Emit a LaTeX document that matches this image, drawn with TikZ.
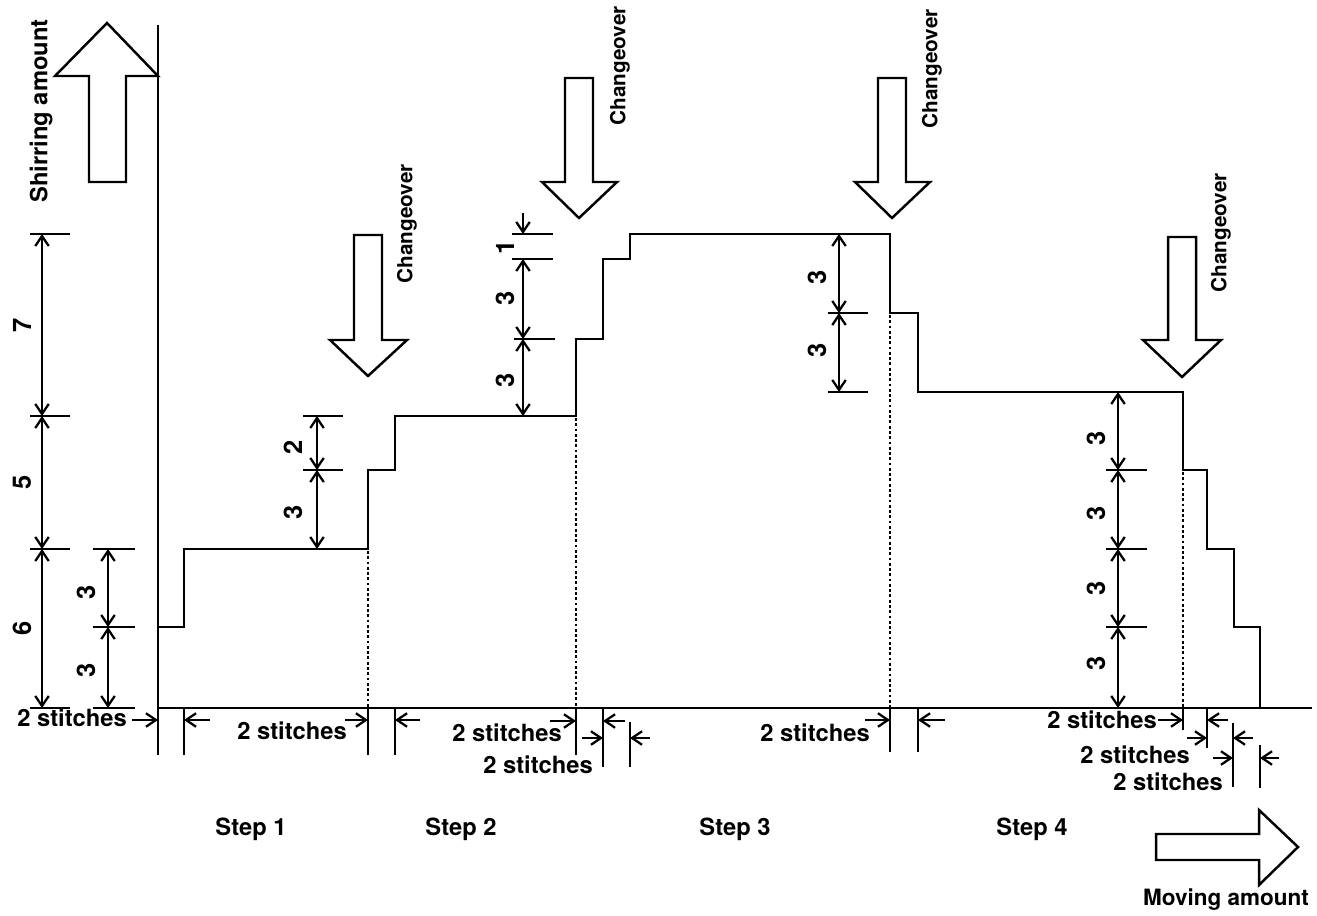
\documentclass[tikz,border=0pt]{standalone}
\usepackage{fontspec}
\setmainfont{TeX Gyre Heros}
\usetikzlibrary{arrows.meta}

\begin{document}
\begin{tikzpicture}[x=0.2mm,y=-0.2mm,
    ln/.style={line width=1.5pt},
    tk/.style={line width=1.3pt},
    dim/.style={line width=1.3pt,
                {Straight Barb[length=2mm,width=2.7mm]}-{Straight Barb[length=2mm,width=2.7mm]}},
    ar/.style={line width=1.3pt,-{Straight Barb[length=2mm,width=2.7mm]}},
    dots/.style={line width=1.6pt,dash pattern=on 1.6pt off 1.4pt},
    blk/.style={draw,line width=1.4pt,fill=white,line join=miter},
    lb/.style={font=\fontsize{13.5}{15}\selectfont\bfseries,inner sep=0pt},
    vl/.style={font=\fontsize{14.5}{16}\selectfont\bfseries,inner sep=0pt,rotate=90},
    co/.style={font=\fontsize{11.8}{13}\selectfont\bfseries,inner sep=0pt,rotate=90}
  ]
    \useasboundingbox (0,0) rectangle (1317,915);

    %% Axes ───────────────────────────────────
    \draw[ln] (158,25) -- (158,755);
    \draw[ln] (158,708) -- (1312,708);
    \draw[blk] (89,182) -- (89,76) -- (55,76) -- (107,23) -- (158,76)
               -- (126,76) -- (126,182) -- cycle;
    \node[lb,rotate=90] (shir) at (41,111) {Shirring amount};
    \draw[blk] (1156,834) -- (1259,834) -- (1259,810) -- (1298,847)
               -- (1259,885) -- (1259,860) -- (1156,860) -- cycle;
    \node[lb,font=\fontsize{12.8}{15}\selectfont\bfseries] (mov) at (1226,900) {Moving amount};

    %% Staircase ──────────────────────────────
    \draw[ln] (158,627) -- (184,627) -- (184,549) -- (368,549) -- (368,470)
          -- (395,470) -- (395,416) -- (576,416) -- (576,339) -- (603,339)
          -- (603,259) -- (630,259) -- (630,234) -- (890,234) -- (890,313)
          -- (918,313) -- (918,392) -- (1183,392) -- (1183,470) -- (1207,470)
          -- (1207,549) -- (1234,549) -- (1234,627) -- (1260,627) -- (1260,708);
    \draw[dots] (368,551) -- (368,708);
    \draw[dots] (576,418) -- (576,708);
    \draw[dots] (890,315) -- (890,708);
    \draw[dots] (1183,472) -- (1183,708);

    %% Changeover arrows ──────────────────────
    \draw[blk] (354,235) -- (382,235) -- (382,340) -- (407,340) -- (368,376)
               -- (330,340) -- (354,340) -- cycle;
    \node[co] (co1) at (407,224) {Changeover};
    \draw[blk] (565,78) -- (593,78) -- (593,182) -- (617,182) -- (579,218)
               -- (542,182) -- (565,182) -- cycle;
    \node[co] (co2) at (620,66) {Changeover};
    \draw[blk] (878,78) -- (906,78) -- (906,182) -- (930,182) -- (892,218)
               -- (855,182) -- (878,182) -- cycle;
    \node[co] (co3) at (932,69) {Changeover};
    \draw[blk] (1168,237) -- (1196,237) -- (1196,340) -- (1221,340) -- (1182,377)
               -- (1143,340) -- (1168,340) -- cycle;
    \node[co] (co4) at (1221,233) {Changeover};

    %% Vertical dimensions ────────────────────
    \draw[tk] (30,234) -- (70,234);
    \draw[tk] (30,416) -- (70,416);
    \draw[tk] (30,549) -- (70,549);
    \draw[tk] (30,708) -- (70,708);
    \draw[dim] (42,234) -- (42,416);
    \draw[dim] (42,416) -- (42,549);
    \draw[dim] (42,549) -- (42,708);
    \node[vl] (d7) at (22,325) {7};
    \node[vl] (d5) at (22,482) {5};
    \node[vl] (d6) at (22,628) {6};

    \draw[tk] (93,549) -- (135,549);
    \draw[tk] (93,627) -- (135,627);
    \draw[tk] (93,708) -- (135,708);
    \draw[dim] (108,549) -- (108,627);
    \draw[dim] (108,627) -- (108,708);
    \node[vl] (a1) at (86,592) {3};
    \node[vl] (a2) at (86,670) {3};

    \draw[tk] (303,416) -- (343,416);
    \draw[tk] (303,470) -- (343,470);
    \draw[dim] (317,416) -- (317,470);
    \draw[dim] (317,470) -- (317,549);
    \node[vl] (b1) at (293,447) {2};
    \node[vl] (b2) at (293,512) {3};

    \draw[tk] (512,234) -- (553,234);
    \draw[tk] (512,259) -- (553,259);
    \draw[tk] (514,339) -- (555,339);
    \draw[ar] (523,213) -- (523,234);
    \draw[dim] (523,259) -- (523,339);
    \draw[dim] (523,339) -- (523,416);
    \node[vl] (c1) at (505,247) {1};
    \node[vl] (c2) at (505,298) {3};
    \node[vl] (c3) at (505,380) {3};

    \draw[tk] (828,313) -- (868,313);
    \draw[tk] (828,392) -- (868,392);
    \draw[dim] (839,234) -- (839,313);
    \draw[dim] (839,313) -- (839,392);
    \node[vl] (e1) at (817,277) {3};
    \node[vl] (e2) at (817,350) {3};

    \draw[tk] (1106,470) -- (1147,470);
    \draw[tk] (1106,549) -- (1147,549);
    \draw[tk] (1106,627) -- (1147,627);
    \draw[dim] (1118,392) -- (1118,470);
    \draw[dim] (1118,470) -- (1118,549);
    \draw[dim] (1118,549) -- (1118,627);
    \draw[dim] (1118,627) -- (1118,708);
    \node[vl] (f1) at (1096,438) {3};
    \node[vl] (f2) at (1096,513) {3};
    \node[vl] (f3) at (1096,588) {3};
    \node[vl] (f4) at (1096,663) {3};

    %% Stitch dimensions ──────────────────────
    \draw[tk] (184,708) -- (184,755);
    \draw[ar] (132,720) -- (158,720);
    \draw[ar] (210,720) -- (184,720);
    \node[lb] (s0) at (72,718) {2 stitches};

    \draw[tk] (368,708) -- (368,755);
    \draw[tk] (395,708) -- (395,755);
    \draw[ar] (345,720) -- (368,720);
    \draw[ar] (420,720) -- (395,720);
    \node[lb] (s1) at (292,731) {2 stitches};

    \draw[tk] (576,708) -- (576,755);
    \draw[tk] (603,708) -- (603,767);
    \draw[tk] (630,722) -- (630,767);
    \draw[ar] (550,721) -- (576,721);
    \draw[ar] (625,721) -- (603,721);
    \node[lb] (s2) at (507,733) {2 stitches};
    \draw[ar] (582,738) -- (603,738);
    \draw[ar] (650,738) -- (630,738);
    \node[lb] (s3) at (538,765) {2 stitches};

    \draw[tk] (890,708) -- (890,752);
    \draw[tk] (918,708) -- (918,752);
    \draw[ar] (865,720) -- (890,720);
    \draw[ar] (945,720) -- (918,720);
    \node[lb] (s4) at (815,733) {2 stitches};

    \draw[tk] (1183,708) -- (1183,730);
    \draw[tk] (1207,708) -- (1207,748);
    \draw[tk] (1233,723) -- (1233,787);
    \draw[tk] (1260,745) -- (1260,788);
    \draw[ar] (1158,720) -- (1183,720);
    \draw[ar] (1228,720) -- (1207,720);
    \node[lb] (s5) at (1102,720) {2 stitches};
    \draw[ar] (1187,738) -- (1207,738);
    \draw[ar] (1253,738) -- (1233,738);
    \node[lb] (s6) at (1135,755) {2 stitches};
    \draw[ar] (1213,758) -- (1233,758);
    \draw[ar] (1279,758) -- (1260,758);
    \node[lb] (s7) at (1168,782) {2 stitches};

    %% Steps ──────────────────────────────────
    \node[lb] (st1) at (251,829) {Step 1};
    \node[lb] (st2) at (461,829) {Step 2};
    \node[lb] (st3) at (735,829) {Step 3};
    \node[lb] (st4) at (1032,829) {Step 4};
\end{tikzpicture}
\end{document}
